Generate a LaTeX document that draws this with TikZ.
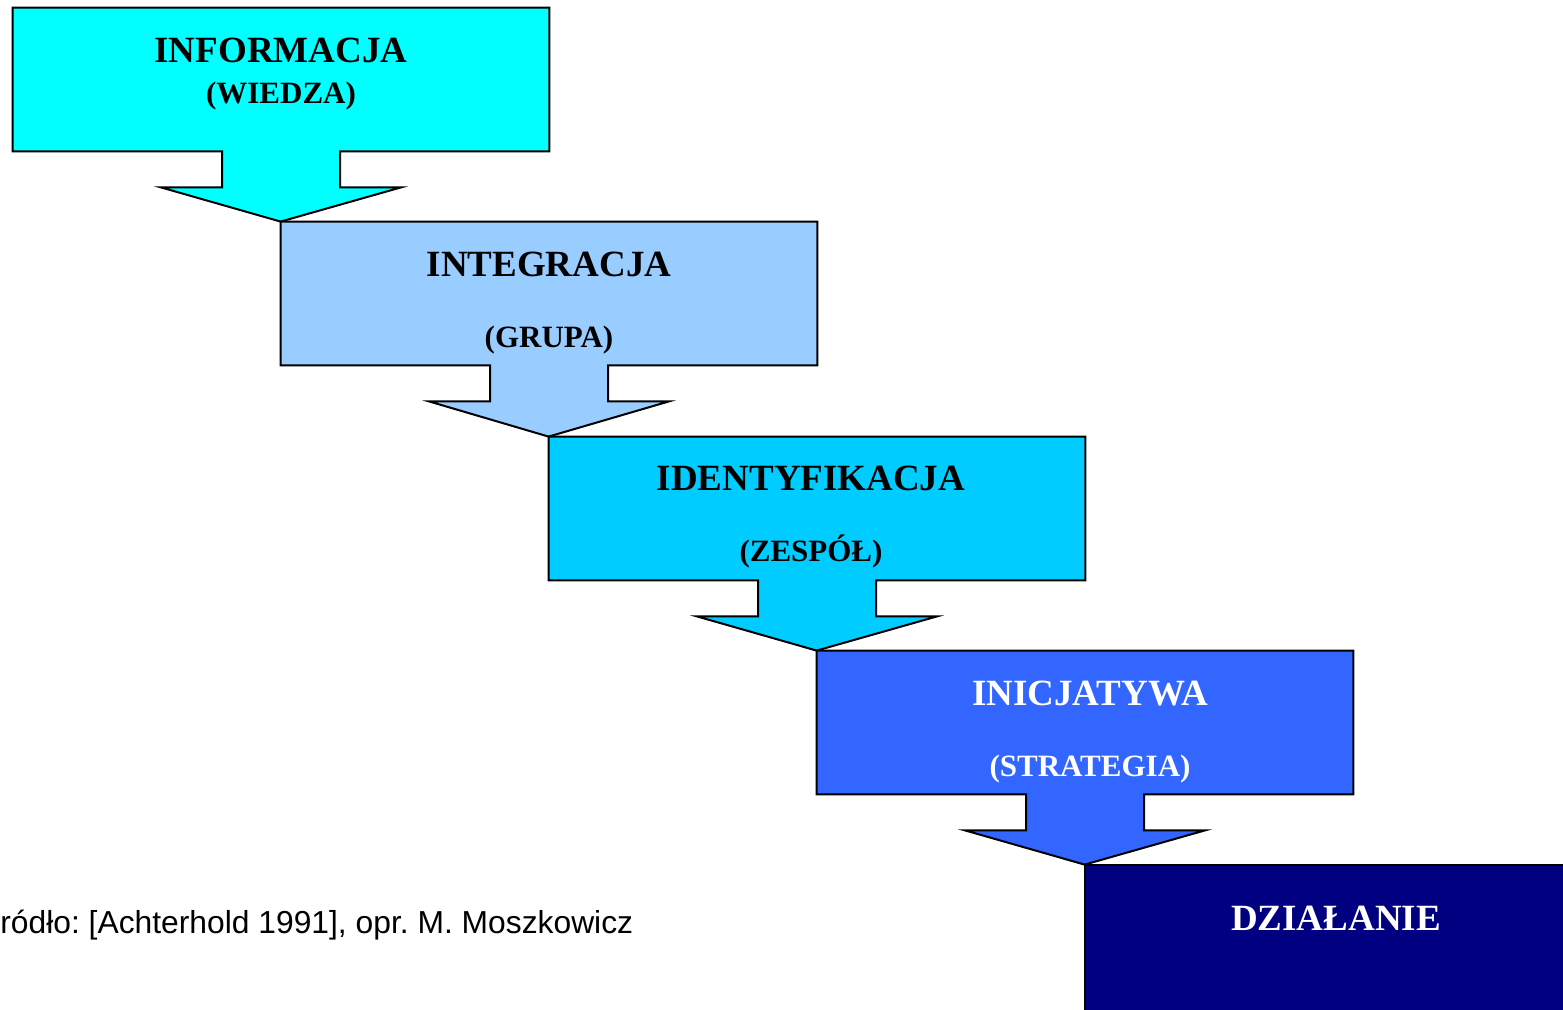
\documentclass[tikz,border=0pt]{standalone}
\usepackage{fontspec}
\setmainfont{Liberation Serif}
\newfontfamily\arialfont{Liberation Sans}
\usetikzlibrary{calc}
\frenchspacing

\definecolor{cInfo}{HTML}{00FFFF}
\definecolor{cInteg}{HTML}{99CCFF}
\definecolor{cIdent}{HTML}{00CCFF}
\definecolor{cInic}{HTML}{3366FF}
\definecolor{cDzial}{HTML}{000080}

\tikzset{
  stagebox/.style={rectangle, inner sep=0pt, minimum width=268pt, minimum height=71.5pt},
  stageshape/.style={draw=black, line width=1pt, line join=miter},
  titletext/.style={anchor=base, font=\bfseries\fontsize{18.5}{22}\selectfont},
  subtext/.style={anchor=base, font=\bfseries\fontsize{15.5}{18}\selectfont},
}

% draws box #1 with a down arrow whose tip touches #2.north west
% (y grows downward in this picture)
\newcommand{\stagearrow}[3]{%
  \draw[stageshape, fill=#3]
    (#1.north west) -- (#1.north east) -- (#1.south east)
    -- ($(#1.south)+(59,0)$) -- ($(#1.south)+(59,36)$)
    -- ($(#1.south)+(120,36)$) -- (#2.north west)
    -- ($(#1.south)+(-120,36)$) -- ($(#1.south)+(-59,36)$)
    -- ($(#1.south)+(-59,0)$) -- (#1.south west) -- cycle;}

\begin{document}
\begin{tikzpicture}[x=0.5pt, y=-0.5pt]
  \useasboundingbox (0,0) rectangle (1563,1010);
  \clip (0,0) rectangle (1563,1010);

  % stage frames (pixel-style coordinates, y grows downward)
  \node[stagebox] (b1) at (281,79.5) {};
  \node[stagebox] (b2) at (549,293.5) {};
  \node[stagebox] (b3) at (817,508.5) {};
  \node[stagebox] (b4) at (1085,722.5) {};
  \node[stagebox, minimum height=85pt] (b5) at (1353,950) {};

  \stagearrow{b1}{b2}{cInfo}
  \stagearrow{b2}{b3}{cInteg}
  \stagearrow{b3}{b4}{cIdent}
  \stagearrow{b4}{b5}{cInic}
  \draw[stageshape, fill=cDzial] (b5.south west) rectangle (b5.north east);

  % labels
  \node[titletext] (t1) at ($(b1.north)+(0,55)$) {INFORMACJA};
  \node[subtext]   (s1) at ($(b1.north)+(0,96)$) {(WIEDZA)};
  \node[titletext] (t2) at ($(b2.north)+(0,55)$) {INTEGRACJA};
  \node[subtext]   (s2) at ($(b2.north)+(0,126)$) {(GRUPA)};
  \node[titletext] (t3) at ($(b3.north)+(-6,54)$) {IDENTYFIKACJA};
  \node[subtext]   (s3) at ($(b3.north)+(-6,125)$) {(ZESPÓŁ)};
  \node[titletext, text=white] (t4) at ($(b4.north)+(5,55)$) {INICJATYWA};
  \node[subtext, text=white]   (s4) at ($(b4.north)+(5,126)$) {(STRATEGIA)};
  \node[titletext, text=white] (t5) at (1336,930) {DZIAŁANIE};

  % source note
  \node[anchor=base west, inner sep=0pt, font=\arialfont\fontsize{15.9}{19}\selectfont] (src) at (0,933)
    {ródło: [Achterhold 1991], opr. M. Moszkowicz};
\end{tikzpicture}
\end{document}
